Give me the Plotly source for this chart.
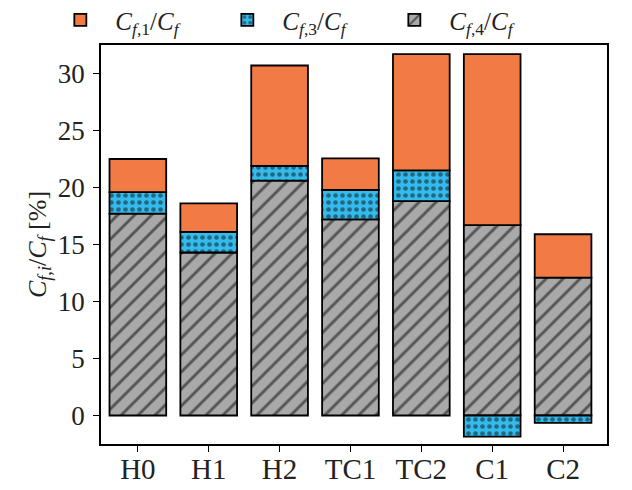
import plotly.graph_objects as go

categories = ["H0", "H1", "H2", "TC1", "TC2", "C1", "C2"]
cf4 = [17.7, 14.3, 20.6, 17.2, 18.8, 16.7, 12.1]
cf3 = [1.9, 1.8, 1.3, 2.6, 2.7, -1.85, -0.65]
cf1 = [2.9, 2.5, 8.8, 2.75, 10.2, 15.0, 3.8]
yticks = [0, 5, 10, 15, 20, 25, 30]

FONT = "Liberation Serif"
LBL = "<i>C</i><sub><i>f</i>,%s</sub>/<i>C</i><sub><i>f</i></sub>"

fig = go.Figure()
# legend order: cf1, cf3, cf4 ; stacking order: cf4 bottom, cf3, cf1
fig.add_trace(go.Bar(
    x=categories, y=cf4, name=LBL % "4", width=0.8, legendrank=3,
    marker=dict(color="#A9A9A9", line=dict(color="black", width=1.8),
                pattern=dict(shape="/", fgcolor="black", bgcolor="#A9A9A9",
                             size=12, solidity=0.24, fillmode="overlay")),
))
fig.add_trace(go.Bar(
    x=categories, y=cf3, name=LBL % "3", width=0.8, legendrank=2,
    marker=dict(color="#33BBEE", line=dict(color="black", width=1.8),
                pattern=dict(shape=".", fgcolor="#111111", bgcolor="#33BBEE",
                             size=7, solidity=0.35, fillmode="overlay")),
))
fig.add_trace(go.Bar(
    x=categories, y=cf1, name=LBL % "1", width=0.8, legendrank=1,
    marker=dict(color="#F27A45", line=dict(color="black", width=1.8)),
))

fig.update_layout(
    width=632, height=490,
    barmode="relative",
    plot_bgcolor="white", paper_bgcolor="white",
    margin=dict(l=101, r=25, t=45, b=46, autoexpand=False),
    font=dict(family=FONT, size=26, color="#222222"),
    legend=dict(orientation="h", x=-0.11, xanchor="left", y=1.12, yanchor="top",
                entrywidth=92, entrywidthmode="pixels", traceorder="normal",
                font=dict(family=FONT, size=25), itemwidth=60,
                bgcolor="rgba(0,0,0,0)"),
    bargap=0.2,
)
fig.update_xaxes(
    range=[-0.52, 6.62], showline=True, linecolor="black", linewidth=1.5, mirror=True,
    ticks="outside", ticklen=6, tickcolor="black", tickwidth=1.2, showgrid=False,
    tickfont=dict(family=FONT, size=29), ticklabelstandoff=-8,
)
fig.update_yaxes(
    range=[-2.5, 32.5], tickvals=yticks, showline=True, linecolor="black", linewidth=1.5,
    mirror=True, ticks="outside", ticklen=6, tickcolor="black", tickwidth=1.2,
    showgrid=False, zeroline=False, tickfont=dict(family=FONT, size=27),
    ticklabelstandoff=3,
    title=dict(text="<i>C</i><sub><i>f</i>,<i>i</i></sub>/<i>C</i><sub><i>f</i></sub> [%]",
               font=dict(family=FONT, size=26), standoff=4),
)

fig.write_html("out.html", config={"displayModeBar": False},
               post_script="document.body.style.margin='0px';")
